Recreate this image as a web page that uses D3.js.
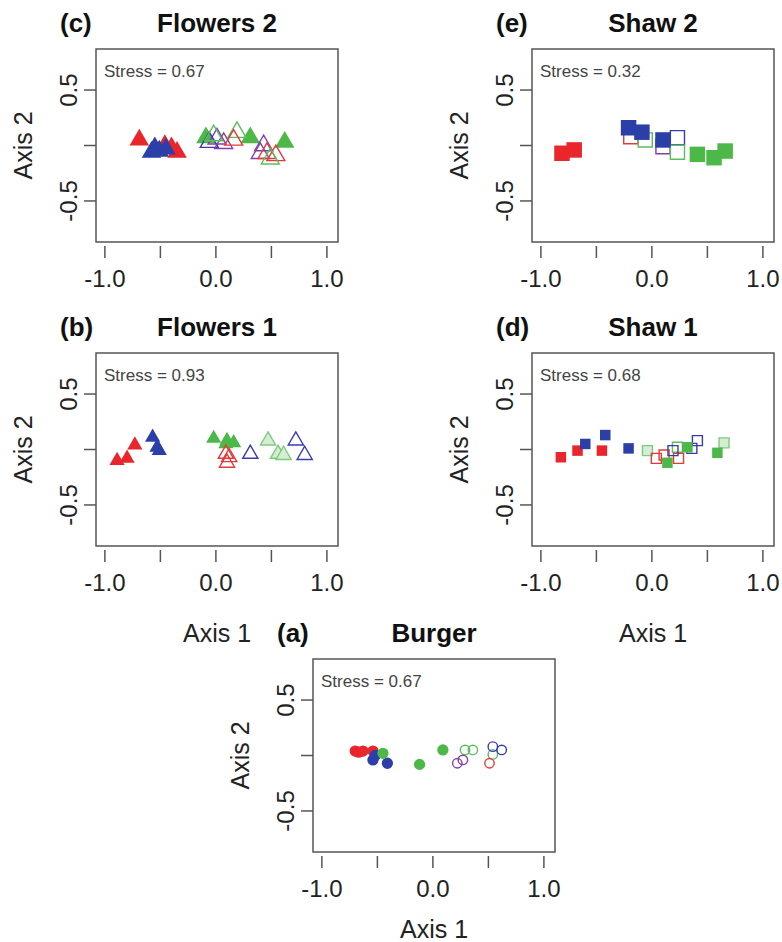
<!DOCTYPE html>
<html>
<head>
<meta charset="utf-8">
<script src="https://cdn.jsdelivr.net/npm/d3@7"></script>
<style>
  body { margin: 0; background: #fff; }
  svg { font-family: "Liberation Sans", Arial, sans-serif; }
  .tick-label { font-size: 24px; fill: #222; }
  .axis-title { font-size: 25px; fill: #222; }
  .panel-title { font-size: 26px; font-weight: bold; fill: #111; }
  .stress { font-size: 17px; fill: #444; }
</style>
</head>
<body>
<div id="chart"></div>
<script>
// --- Data ---
// group codes: rf/bf/gf = filled red/blue/green, ro/bo/go/po = open red/blue/green/purple, gl = pale green
const flowers2X = [-0.69, -0.46, -0.40, -0.35, -0.55, -0.51, -0.58, -0.45, -0.09, 0.31, 0.62, 0.01, -0.06, 0.07, 0.19, -0.02, 0.16, 0.43, 0.40, 0.46, 0.54, 0.49];
const flowers2Y = [0.05, 0.00, -0.02, -0.06, -0.02, -0.05, -0.06, -0.03, 0.07, 0.07, 0.03, 0.06, 0.03, 0.02, 0.12, 0.09, 0.05, 0.00, -0.07, -0.07, -0.09, -0.12];
const flowers2Grp = ["rf", "rf", "rf", "rf", "bf", "bf", "bf", "bf", "gf", "gf", "gf", "po", "bo", "po", "go", "go", "ro", "po", "po", "ro", "ro", "go"];

const flowers1X = [-0.89, -0.80, -0.73, -0.57, -0.53, -0.51, -0.02, 0.10, 0.16, 0.09, 0.09, 0.10, 0.12, 0.31, 0.72, 0.80, 0.47, 0.56, 0.61];
const flowers1Y = [-0.10, -0.08, 0.04, 0.11, 0.02, -0.01, 0.10, 0.08, 0.06, 0.05, -0.04, -0.12, -0.07, -0.04, 0.08, -0.05, 0.08, -0.04, -0.05];
const flowers1Grp = ["rf", "rf", "rf", "bf", "bf", "bf", "gf", "gf", "gf", "gf", "ro", "ro", "ro", "bo", "bo", "bo", "gl", "gl", "gl"];

const shaw2X = [-0.81, -0.70, -0.19, -0.06, 0.10, 0.23, 0.23, -0.21, -0.09, 0.10, 0.41, 0.56, 0.66];
const shaw2Y = [-0.07, -0.04, 0.08, 0.05, -0.01, 0.07, -0.06, 0.16, 0.12, 0.05, -0.08, -0.11, -0.05];
const shaw2Grp = ["rf", "rf", "ro", "go", "po", "bo", "go", "bf", "bf", "bf", "gf", "gf", "gf"];

const shaw1X = [-0.82, -0.67, -0.45, -0.60, -0.42, -0.21, -0.04, 0.23, 0.65, 0.04, 0.11, 0.24, 0.19, 0.36, 0.41, 0.14, 0.32, 0.59];
const shaw1Y = [-0.07, -0.01, -0.01, 0.05, 0.13, 0.01, -0.01, 0.02, 0.06, -0.08, -0.05, -0.08, -0.01, 0.01, 0.08, -0.12, 0.02, -0.03];
const shaw1Grp = ["rf", "rf", "rf", "bf", "bf", "bf", "gl", "go", "gl", "ro", "ro", "ro", "bo", "bo", "bo", "gf", "gf", "gf"];

const burgerX = [-0.70, -0.67, -0.63, -0.54, -0.54, -0.41, -0.52, -0.45, -0.12, 0.09, 0.29, 0.36, 0.54, 0.22, 0.27, 0.51, 0.54, 0.62];
const burgerY = [0.04, 0.03, 0.04, 0.04, -0.04, -0.07, 0.00, 0.02, -0.08, 0.05, 0.05, 0.05, 0.01, -0.07, -0.04, -0.07, 0.08, 0.05];
const burgerGrp = ["rf", "rf", "rf", "rf", "bf", "bf", "bf", "gf", "gf", "gf", "go", "go", "go", "po", "po", "ro", "bo", "bo"];

const xTicks = [-1.0, -0.5, 0.0, 0.5, 1.0];
const xTickLabels = ["-1.0", "", "0.0", "", "1.0"];
const yTicks = [0.5, 0, -0.5];
const yTickLabels = ["0.5", "", "-0.5"];

const width = 782, height = 942;
const frameW = 242, frameH = 193;

// marker styles per group
const styles = {
    rf: { fill: "#e8262b", stroke: "none" },
    bf: { fill: "#2c3ea8", stroke: "none" },
    gf: { fill: "#4cb848", stroke: "none" },
    ro: { fill: "none", stroke: "#e23a3a" },
    bo: { fill: "none", stroke: "#3a3ab2" },
    go: { fill: "none", stroke: "#5cbf5c" },
    po: { fill: "none", stroke: "#8540a8" },
    gl: { fill: "#d4edd4", stroke: "#7dcb7d" }
};

const svg = d3.select("#chart").append("svg")
    .attr("width", width)
    .attr("height", height);

function drawPanel(p) {
    const g = svg.append("g").attr("transform", `translate(${p.left},${p.top})`);

    const x = d3.scaleLinear().domain([-1.08, 1.1]).range([0, frameW]);
    const y = d3.scaleLinear().domain([-0.87, 0.87]).range([frameH, 0]);

    // --- Points ---
    const pts = p.xs.map((v, i) => ({ x: v, y: p.ys[i], grp: p.grp[i] }));
    const sym = d3.symbol().type(p.shape);
    g.selectAll(".pt")
        .data(pts)
        .join("path")
        .attr("class", "pt")
        .attr("transform", d => `translate(${x(d.x)},${y(d.y)})`)
        .attr("d", d => sym.size(styles[d.grp].fill === "none" || d.grp === "gl" ? p.openSize : p.size)())
        .attr("fill", d => styles[d.grp].fill)
        .attr("stroke", d => styles[d.grp].stroke)
        .attr("stroke-width", 1.4);

    // --- Frame ---
    g.append("rect")
        .attr("width", frameW)
        .attr("height", frameH)
        .attr("fill", "none")
        .attr("stroke", "#555")
        .attr("stroke-width", 1.5);

    // --- X axis (ticks hang below the frame) ---
    g.selectAll(".xtick")
        .data(xTicks)
        .join("line")
        .attr("x1", d => x(d)).attr("x2", d => x(d))
        .attr("y1", frameH + 4).attr("y2", frameH + 16)
        .attr("stroke", "#555").attr("stroke-width", 1.5);
    g.selectAll(".xlab")
        .data(xTicks)
        .join("text")
        .attr("class", "tick-label")
        .attr("x", d => x(d))
        .attr("y", frameH + 45)
        .attr("text-anchor", "middle")
        .text((d, i) => xTickLabels[i]);

    // --- Y axis ---
    g.selectAll(".ytick")
        .data(yTicks)
        .join("line")
        .attr("x1", -12).attr("x2", 0)
        .attr("y1", d => y(d)).attr("y2", d => y(d))
        .attr("stroke", "#555").attr("stroke-width", 1.5);
    g.selectAll(".ylab")
        .data(yTicks)
        .join("text")
        .attr("class", "tick-label")
        .attr("transform", d => `translate(-19,${y(d)}) rotate(-90)`)
        .attr("text-anchor", "middle")
        .text((d, i) => yTickLabels[i]);

    g.append("text")
        .attr("class", "axis-title")
        .attr("transform", `translate(-64,${frameH / 2}) rotate(-90)`)
        .attr("text-anchor", "middle")
        .text("Axis 2");

    if (p.xTitle) {
        g.append("text")
            .attr("class", "axis-title")
            .attr("x", frameW / 2)
            .attr("y", frameH + p.xTitle)
            .attr("text-anchor", "middle")
            .text("Axis 1");
    }

    // --- Titles ---
    g.append("text")
        .attr("class", "panel-title")
        .attr("x", -36)
        .attr("y", -17)
        .text(p.tag);
    g.append("text")
        .attr("class", "panel-title")
        .attr("x", frameW / 2)
        .attr("y", -17)
        .attr("text-anchor", "middle")
        .text(p.title);

    g.append("text")
        .attr("class", "stress")
        .attr("x", 8)
        .attr("y", 28)
        .text(`Stress = ${p.stress}`);
}

drawPanel({ left: 96, top: 49, tag: "(c)", title: "Flowers 2", stress: "0.67",
    xs: flowers2X, ys: flowers2Y, grp: flowers2Grp, shape: d3.symbolTriangle, size: 165, openSize: 140 });
drawPanel({ left: 532, top: 49, tag: "(e)", title: "Shaw 2", stress: "0.32",
    xs: shaw2X, ys: shaw2Y, grp: shaw2Grp, shape: d3.symbolSquare, size: 240, openSize: 200 });
drawPanel({ left: 96, top: 353, tag: "(b)", title: "Flowers 1", stress: "0.93",
    xs: flowers1X, ys: flowers1Y, grp: flowers1Grp, shape: d3.symbolTriangle, size: 100, openSize: 100, xTitle: 96 });
drawPanel({ left: 532, top: 353, tag: "(d)", title: "Shaw 1", stress: "0.68",
    xs: shaw1X, ys: shaw1Y, grp: shaw1Grp, shape: d3.symbolSquare, size: 110, openSize: 100, xTitle: 96 });
drawPanel({ left: 313, top: 659, tag: "(a)", title: "Burger", stress: "0.67",
    xs: burgerX, ys: burgerY, grp: burgerGrp, shape: d3.symbolCircle, size: 100, openSize: 70, xTitle: 86 });
</script>
</body>
</html>
